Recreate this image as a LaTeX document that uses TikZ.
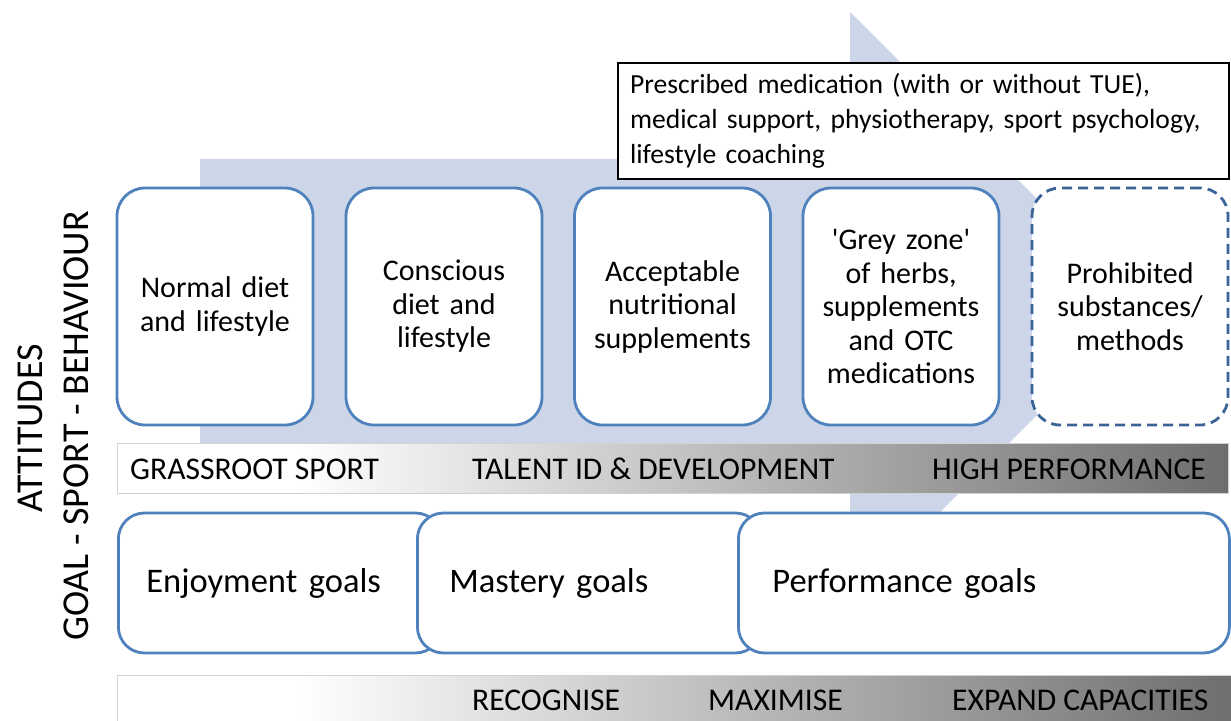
\documentclass[tikz,border=0pt]{standalone}
\usepackage{fontspec}
\setmainfont{Carlito}
\usepackage{tikz}
\definecolor{arrowblue}{HTML}{CDD5E8}
\definecolor{boxblue}{HTML}{4F81BD}
\definecolor{dashblue}{HTML}{3B6496}
\pgfdeclarehorizontalshading{barshade}{100bp}{color(0bp)=(white); color(33bp)=(white);
                      color(75bp)=(black!57); color(100bp)=(black!57)}
\tikzstyle{bluebox}=[draw=boxblue,line width=2.8pt,fill=white,rounded corners=28pt,
                     minimum width=196pt,minimum height=237pt,text width=188pt,
                     inner xsep=4pt,align=center,font=\fontsize{30}{33.5}\selectfont]
\tikzstyle{dashbox}=[bluebox,draw=dashblue,dash pattern=on 10pt off 6pt]
\tikzstyle{goalbox}=[draw=boxblue,line width=2.8pt,fill=white,rounded corners=26pt,
                     minimum height=140pt,inner xsep=28pt,align=left,anchor=west,
                     font=\fontsize{34.5}{40}\selectfont]
\tikzstyle{gradbar}=[draw=black!18,line width=1pt,shading=barshade,shade,
                     minimum width=1111pt,minimum height=50pt,anchor=west]
\tikzstyle{bartext}=[anchor=west,inner sep=0pt,font=\fontsize{31.6}{36}\selectfont]
\tikzstyle{sidetext}=[rotate=90,inner sep=0pt,font=\fontsize{38}{44}\selectfont]

\begin{document}
\begin{tikzpicture}[x=1pt,y=-1pt]
    \newcommand{\rowy}{306.5}
    \useasboundingbox[fill=white] (0,0) rectangle (1231,720);
    % big arrow in the background
    \fill[arrowblue] (200,159) -- (850,159) -- (850,12) -- (1145,307)
        -- (850,602) -- (850,455) -- (200,455) -- cycle;
    \node (support) at (617,62) [anchor=north west,draw=black,line width=2pt,fill=white,
        minimum width=611pt,minimum height=116pt,text width=587pt,inner xsep=12pt,
        align=left,font=\fontsize{27.6}{35}\selectfont]
        {Prescribed medication (with or without TUE),\\
         medical support, physiotherapy, sport psychology,\\
         lifestyle coaching};
    \node (normal)     at ( 215.0,\rowy) [bluebox]{Normal diet\\and lifestyle};
    \node (conscious)  at ( 444.0,\rowy) [bluebox]{Conscious\\diet and\\lifestyle};
    \node (acceptable) at ( 672.5,\rowy) [bluebox]{Acceptable\\nutritional\\supplements};
    \node (greyzone)   at ( 901.0,\rowy) [bluebox]{\textquotesingle Grey zone\textquotesingle\\of herbs,\\supplements\\and OTC\\medications};
    \node (prohibited) at (1130.0,\rowy) [dashbox]{Prohibited\\substances/\\methods};
    % sport levels
    \node (sportbar) at (117,468) [gradbar]{};
    \node (grassroot) at (130,469) [bartext]{GRASSROOT SPORT};
    \node (talent)    at (472,469) [bartext]{TALENT ID \& DEVELOPMENT};
    \node (highperf)  at (932,469) [bartext]{HIGH PERFORMANCE};
    % goals
    \node (enjoy)   at (117,583) [goalbox,text width=267pt]{Enjoyment goals};
    \node (mastery) at (416,583) [goalbox,text width=280pt,inner xsep=32pt]{Mastery goals};
    \node (perform) at (737,583) [goalbox,text width=423pt,inner xsep=34pt]{Performance goals};
    % capacities
    \node (capbar) at (117,700) [gradbar,minimum width=1120pt]{};
    \node (recognise) at (472,700) [bartext]{RECOGNISE};
    \node (maximise)  at (708,700) [bartext]{MAXIMISE};
    \node (expand)    at (952,700) [bartext]{EXPAND CAPACITIES};
    % side labels
    \node (attitudes) at (30,428) [sidetext]{ATTITUDES};
    \node (gsb)       at (76,426) [sidetext]{GOAL - SPORT - BEHAVIOUR};
  \end{tikzpicture}
\end{document}
